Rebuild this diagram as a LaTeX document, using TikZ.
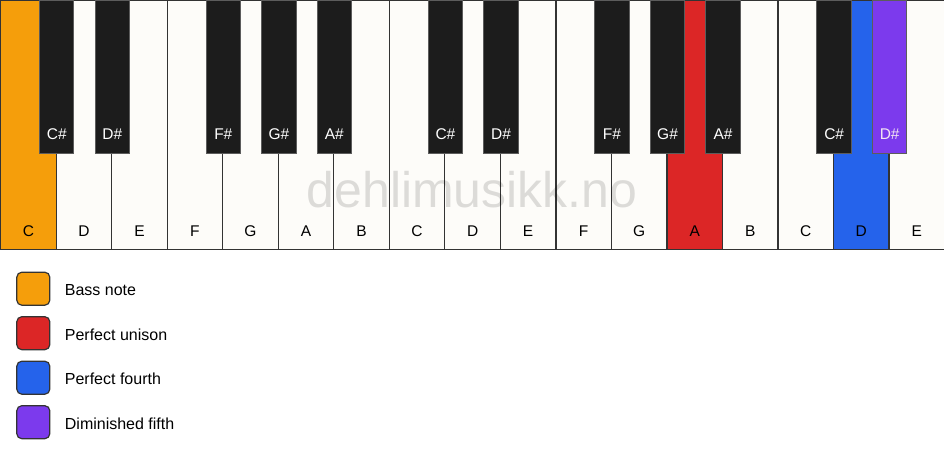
\documentclass[tikz,border=0pt]{standalone}
\usepackage{fontspec}
\setmainfont{Liberation Sans}
\definecolor{keywhite}{HTML}{FDFCF9}
\definecolor{keyblack}{HTML}{1C1C1C}
\definecolor{keyline}{HTML}{333333}
\definecolor{bassnote}{HTML}{F59E0B}
\definecolor{unison}{HTML}{DC2626}
\definecolor{fourth}{HTML}{2563EB}
\definecolor{dimfifth}{HTML}{7C3AED}
\tikzset{
  whitekey/.style={draw=keyline, line width=1.2pt, anchor=north west, inner sep=0pt,
    minimum width=55.53pt, minimum height=249pt},
  blackkey/.style={draw=keyline!80, line width=1pt, anchor=north, inner sep=0pt,
    minimum width=34.5pt, minimum height=153pt},
  keylabel/.style={font=\fontsize{15.5}{18}\selectfont, inner sep=0pt},
  legendbox/.style={draw=keyline, line width=1.2pt, rounded corners=5pt, inner sep=0pt,
    minimum size=33pt},
  legendtext/.style={font=\fontsize{16}{19}\selectfont, inner sep=0pt, anchor=west}
}
\begin{document}
\begin{tikzpicture}[x=1pt,y=-1pt]
  \useasboundingbox (0,0) rectangle (944,461);
  % white keys
  \foreach \n/\name/\col in {0/C/bassnote, 1/D/keywhite, 2/E/keywhite, 3/F/keywhite,
      4/G/keywhite, 5/A/keywhite, 6/B/keywhite, 7/C/keywhite, 8/D/keywhite,
      9/E/keywhite, 10/F/keywhite, 11/G/keywhite, 12/A/unison, 13/B/keywhite,
      14/C/keywhite, 15/D/fourth, 16/E/keywhite} {
    \node[whitekey, fill=\col] (w\n) at ({55.53*\n},0) {};
    \node[keylabel] (wl\n) at ([yshift=19pt]w\n.south) {\name};
  }
  % black keys
  \foreach \n/\name/\col/\txt in {0/C/keyblack/white, 1/D/keyblack/white,
      3/F/keyblack/white, 4/G/keyblack/white, 5/A/keyblack/white,
      7/C/keyblack/white, 8/D/keyblack/white, 10/F/keyblack/white,
      11/G/keyblack/white, 12/A/keyblack/white, 14/C/keyblack/white,
      15/D/dimfifth/violet!10} {
    \node[blackkey, fill=\col] (b\n) at (w\n.north east) {};
    \node[keylabel, text=\txt] (bl\n) at ([yshift=20pt]b\n.south) {\name\#};
  }
  % watermark
  \node[font=\fontsize{50}{56}\selectfont, text=black, text opacity=0.13, inner sep=0pt]
    (mark) at (472,190) {dehlimusikk.no};
  % legend
  \foreach \i/\col/\txt in {0/bassnote/Bass note, 1/unison/Perfect unison,
      2/fourth/Perfect fourth, 3/dimfifth/Diminished fifth} {
    \node[legendbox, fill=\col] (l\i) at (33.3,{288.7+44.5*\i}) {};
    \node[legendtext] (lt\i) at ([xshift=14.3pt,yshift=-1.5pt]l\i.east) {\txt};
  }
\end{tikzpicture}
\end{document}
